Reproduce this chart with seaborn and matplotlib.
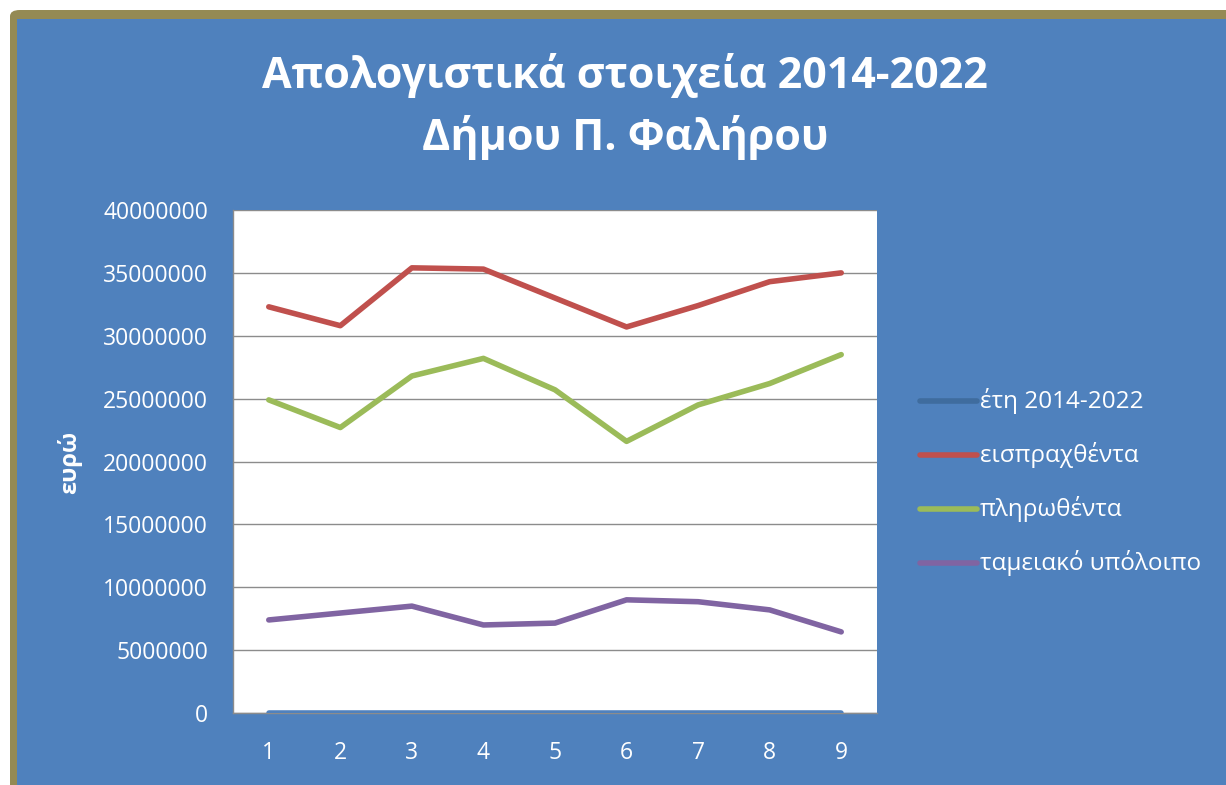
import pandas as pd
import seaborn as sns
import matplotlib.pyplot as plt
from matplotlib.patches import Rectangle, FancyBboxPatch
from matplotlib.ticker import FuncFormatter

# data
x_cat = [1, 2, 3, 4, 5, 6, 7, 8, 9]
etos = [2014, 2015, 2016, 2017, 2018, 2019, 2020, 2021, 2022]
eispraxthenta = [32300000, 30800000, 35400000, 35300000, 33000000, 30700000, 32400000, 34300000, 35000000]
plirothenta = [24900000, 22700000, 26800000, 28200000, 25700000, 21600000, 24500000, 26200000, 28500000]
ypoloipo = [7400000, 7950000, 8500000, 7000000, 7150000, 9000000, 8850000, 8200000, 6450000]

names = ["έτη 2014-2022", "εισπραχθέντα", "πληρωθέντα", "ταμειακό υπόλοιπο"]
colors = ["#4F81BD", "#C0504D", "#9BBB59", "#8064A2"]

df = pd.concat([
    pd.DataFrame({"x": x_cat, "value": vals, "series": n})
    for n, vals in zip(names, [etos, eispraxthenta, plirothenta, ypoloipo])
])

sns.set_style("white")
plt.rcParams['font.family'] = ['Open Sans', 'DejaVu Sans']

blue = "#4F81BD"
fig = plt.figure(figsize=(12.26, 7.85), dpi=100)
fig.patch.set_facecolor("white")
fig.patches.append(FancyBboxPatch((10 / 1226, -0.05), 1.1, 1 - 10 / 785 + 0.05,
                                  boxstyle="round,pad=0,rounding_size=0.008",
                                  transform=fig.transFigure, facecolor="#948A54",
                                  edgecolor="none", zorder=-2))
fig.patches.append(Rectangle((17 / 1226, -0.05), 1.1, 1 - 19 / 785 + 0.05,
                             transform=fig.transFigure, facecolor=blue,
                             edgecolor="none", zorder=-1))

ax = fig.add_axes([233 / 1226, 1 - 713 / 785, 644 / 1226, 503 / 785])
ax.set_facecolor("white")

sns.lineplot(data=df, x="x", y="value", hue="series", hue_order=names,
             palette=colors, linewidth=4, ax=ax, legend=False)
ax.lines[0].set_zorder(5)

ax.set_xlim(0.5, 9.5)
ax.set_ylim(0, 40000000)
ax.set_xticks(x_cat)
ax.set_yticks(range(0, 40000001, 5000000))
ax.yaxis.set_major_formatter(FuncFormatter(lambda v, p: "%d" % v))
ax.grid(axis="y", color="#8C8C8C", linewidth=1)
ax.tick_params(axis="both", colors="white", labelsize=16.5, length=0)
ax.tick_params(axis="y", pad=18)
ax.tick_params(axis="x", pad=20)
for s in ["top", "right"]:
    ax.spines[s].set_visible(False)
for s in ["left", "bottom"]:
    ax.spines[s].set_color("#8C8C8C")
    ax.spines[s].set_linewidth(1)
ax.set_xlabel("")
ax.set_ylabel("")

fig.text(70 / 1226, 1 - 462 / 785, "ευρώ", rotation=90, color="white",
         fontsize=17, fontweight="bold", ha="center", va="center")

fig.text(625 / 1226, 1 - 76 / 785, "Απολογιστικά στοιχεία 2014-2022", color="white",
         fontsize=31, fontweight="bold", ha="center", va="center")
fig.text(625 / 1226, 1 - 138 / 785, "Δήμου Π. Φαλήρου", color="white",
         fontsize=31, fontweight="bold", ha="center", va="center")

# legend
leg_colors = ["#3F6C9E", "#C0504D", "#9BBB59", "#8064A2"]
for i, (n, c) in enumerate(zip(names, leg_colors)):
    yy = 1 - (401 + 54 * i) / 785
    fig.add_artist(plt.Line2D([920 / 1226, 977 / 1226], [yy, yy], color=c,
                              linewidth=4, solid_capstyle="round",
                              transform=fig.transFigure))
    fig.text(980 / 1226, yy, n, color="white", fontsize=17.5, ha="left", va="center")

fig.savefig("out.png", dpi=100, facecolor=fig.get_facecolor())
